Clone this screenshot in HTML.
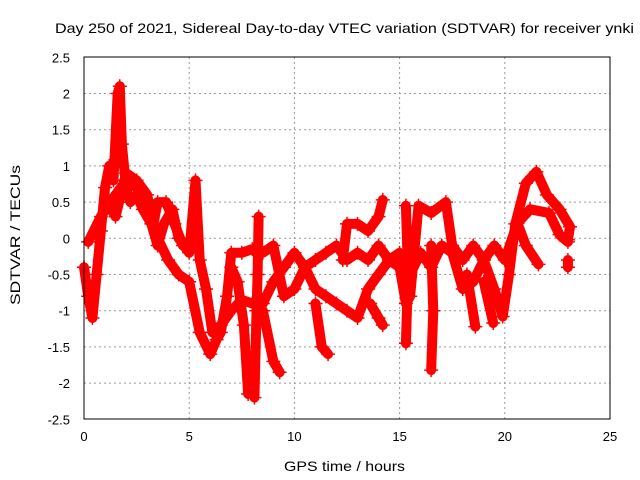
<!DOCTYPE html>
<html><head><meta charset="utf-8"><style>
body{margin:0;background:#fff}
svg{display:block;font-family:"Liberation Sans",sans-serif}
</style></head><body>
<svg id="chart" width="640" height="480">
<text x="55" y="33" font-size="14" textLength="579" lengthAdjust="spacingAndGlyphs">Day 250 of 2021, Sidereal Day-to-day VTEC variation (SDTVAR) for receiver ynki</text>
<text x="284" y="471" font-size="14" textLength="121" lengthAdjust="spacingAndGlyphs">GPS time / hours</text>
<text x="20" y="305" font-size="14" textLength="140" lengthAdjust="spacingAndGlyphs" transform="rotate(-90 20 305)">SDTVAR / TECUs</text>
<g id="grid"></g><g id="ticks"></g><g id="marks"></g>
<rect x="84" y="57" width="526" height="362" fill="none" stroke="#000" stroke-width="1"/>
</svg>
<script>
const xTicks=[0,5,10,15,20,25];
const yTicks=[-2.5,-2,-1.5,-1,-0.5,0,0.5,1,1.5,2,2.5];
const trackA=[[0,-0.4],[0.2,-0.8],[0.4,-1.1],[0.6,-0.5],[0.8,0.1],[1.0,0.7],[1.2,1.0],[1.4,0.8],[1.6,2.0],[1.7,2.1],[1.8,1.3],[2.0,0.7],[2.2,0.5],[2.5,0.6],[2.8,0.4],[3.2,0.2],[3.5,-0.1],[3.8,0.2],[4.2,0.4],[4.5,0.0],[5.0,-0.2],[5.3,0.8],[5.5,-0.3],[5.8,-0.7],[6.1,-1.3],[6.5,-1.2],[7.0,-1.0],[7.5,-0.85],[8.0,-0.9],[8.5,-0.9],[9.0,-0.6],[9.5,-0.4],[10.0,-0.2],[10.5,-0.4],[11.0,-0.3],[11.5,-0.2],[12.0,-0.1],[12.5,-0.3],[13.0,-0.2],[13.5,-0.3],[14.0,-0.1],[14.5,-0.3],[15.0,-0.2],[15.5,-0.5],[16.0,-0.2],[16.5,-0.4],[17.0,-0.1],[17.5,-0.2],[18.0,-0.7],[18.5,-0.6],[19.0,-0.3],[19.5,-0.7],[19.9,-1.08],[20.2,-0.5],[20.5,0.2],[21.0,0.76],[21.5,0.92],[22.0,0.6],[22.6,0.4],[23.1,0.16],[23.0,-0.02]];
const trackB=[[0.2,-0.05],[0.8,0.3],[1.5,0.6],[2.0,0.8],[2.5,0.7],[3.0,0.5],[3.5,0.0],[4.0,-0.3],[4.5,-0.5],[5.0,-0.6],[5.5,-1.3],[6.0,-1.6],[6.3,-1.4],[6.5,-1.3],[6.8,-0.8],[7.0,-0.2],[7.5,-0.2],[8.0,-0.15],[8.5,-0.2],[9.0,-0.1],[9.5,-0.8],[10.0,-0.7],[10.5,-0.4],[11.0,-0.7],[11.5,-0.8],[12.0,-0.9],[12.5,-1.0],[13.0,-1.1],[13.5,-0.7],[14.0,-0.5],[14.5,-0.3],[15.0,-0.4],[15.3,-0.9],[15.5,-0.8],[15.9,0.45],[16.5,0.35],[17.2,0.5],[17.5,-0.1],[18.0,-0.3],[18.5,-0.1],[19.0,-0.3],[19.5,-0.1],[20.0,-0.3],[20.6,0.21],[21.0,-0.1],[21.6,-0.36]];
const trackC=[[20.6,0.21],[21.2,0.4],[22.1,0.35],[22.6,0.05],[23.0,-0.05]];
const cluster=[[1.1,0.5],[1.5,0.3],[2.0,0.9],[2.5,0.8],[3.0,0.6],[3.3,0.2],[3.5,0.5],[3.9,0.5],[4.3,0.2],[4.7,-0.1]];
const dip1=[[7.0,-0.4],[7.3,-0.6],[7.6,-1.2],[7.8,-2.15]];
const dip2=[[8.3,0.3],[8.25,-0.5],[8.2,-1.0],[8.1,-2.2]];
const dip3=[[8.5,-1.0],[9.0,-1.7],[9.3,-1.85]];
const dip4=[[11.0,-0.9],[11.3,-1.5],[11.6,-1.6]];
const dip5=[[16.5,-0.1],[16.6,-1.0],[16.5,-1.82]];
const arc1=[[12.3,-0.3],[12.5,0.2],[13.0,0.2],[13.5,0.1],[14.0,0.3],[14.2,0.53]];
const dip6=[[13.6,-0.9],[14.0,-1.1],[14.2,-1.2]];
const dip7=[[15.3,0.45],[15.4,-0.5],[15.3,-1.45]];
const dip8=[[18.2,-0.5],[18.6,-1.22]];
const dip9=[[19.0,-0.6],[19.45,-1.17]];
const tail=[[23.0,-0.3],[23.0,-0.4]];
const series=[trackA,trackB,trackC,cluster,dip1,dip2,dip3,dip4,dip5,arc1,dip6,dip7,dip8,dip9,tail];
const NS="http://www.w3.org/2000/svg";
const X=t=>84+t*21.04, Y=v=>238.3-v*72.4;
const grid=document.getElementById('grid'),ticks=document.getElementById('ticks'),marks=document.getElementById('marks');
function mk(tag,at,parent){const e=document.createElementNS(NS,tag);for(const k in at)e.setAttribute(k,at[k]);parent.appendChild(e);return e;}
xTicks.forEach(t=>{
 if(t>0&&t<25){const g=mk('line',{x1:X(t),x2:X(t),y1:57,y2:419,stroke:'#999','stroke-dasharray':'2,3'},grid);
 
 }
 const l=mk('text',{x:X(t),y:441,'font-size':13,'text-anchor':'middle'},ticks);l.textContent=t;
 
 
});
yTicks.forEach(v=>{
 if(v>-2.5&&v<2.5){const g=mk('line',{x1:84,x2:610,y1:Y(v),y2:Y(v),stroke:'#999','stroke-dasharray':'2,3'},grid);
 
 }
 const l=mk('text',{x:70,y:Y(v)+5,'font-size':13,'text-anchor':'end'},ticks);l.textContent=v;
 
 
});
series.forEach(s=>{
 const p=mk('polyline',{points:s.map(d=>X(d[0])+','+Y(d[1])).join(' '),fill:'none',stroke:'#f00','stroke-width':10,'stroke-linejoin':'round','stroke-linecap':'round'},marks);
 
 
 s.forEach(d=>{const x=X(d[0]),y=Y(d[1]);
  const m=mk('path',{d:`M${x-7},${y}h14M${x},${y-7}v14`,stroke:'#f00','stroke-width':1.5},marks);
  
  });
});
</script>
</body></html>
